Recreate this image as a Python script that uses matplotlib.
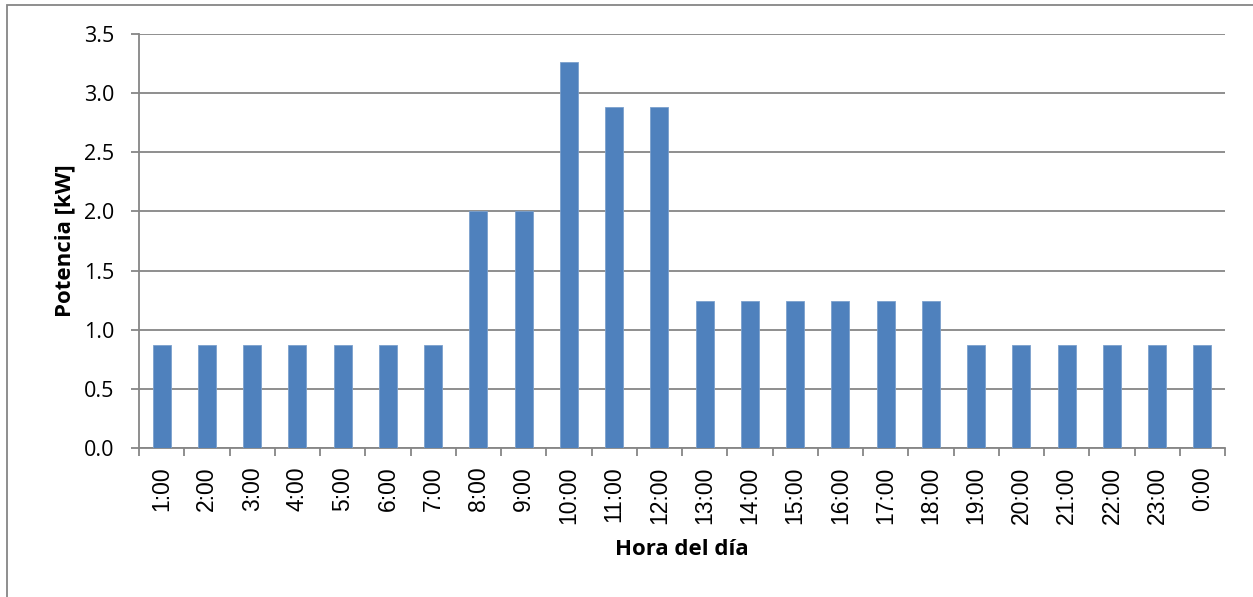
import matplotlib
matplotlib.use("Agg")
import matplotlib.pyplot as plt
from matplotlib.patches import Rectangle

horas = ["1:00", "2:00", "3:00", "4:00", "5:00", "6:00", "7:00", "8:00",
         "9:00", "10:00", "11:00", "12:00", "13:00", "14:00", "15:00", "16:00",
         "17:00", "18:00", "19:00", "20:00", "21:00", "22:00", "23:00", "0:00"]
potencia = [0.87, 0.87, 0.87, 0.87, 0.87, 0.87, 0.87, 2.0,
            2.0, 3.26, 2.88, 2.88, 1.24, 1.24, 1.24, 1.24,
            1.24, 1.24, 0.87, 0.87, 0.87, 0.87, 0.87, 0.87]
y_ticks = [0.0, 0.5, 1.0, 1.5, 2.0, 2.5, 3.0, 3.5]

bar_color = "#4F81BD"
grid_color = "#868686"

W, H = 1253, 597
fig = plt.figure(figsize=(W / 100, H / 100), dpi=100)
ax = fig.add_axes([139 / W, 1 - 448 / H, (1225 - 139) / W, (448 - 34) / H])

# outer chart frame
fig.patches.append(Rectangle((7 / W, -0.2), 1.2, 1.2 - 5 / H,
                             transform=fig.transFigure, fill=False,
                             edgecolor=grid_color, linewidth=1.3))

x = list(range(len(horas)))
ax.bar(x, potencia, width=0.4, color=bar_color, edgecolor="#7BA0CD",
       linewidth=0.6, zorder=3)

ax.set_xlim(-0.5, len(horas) - 0.5)
ax.set_ylim(0, 3.5)
ax.set_yticks(y_ticks)
ax.set_yticklabels([f"{v:.1f}" for v in y_ticks], fontsize=15.5, family="Open Sans")
ax.yaxis.grid(True, color=grid_color, linewidth=1.3, zorder=0)

# category labels at bar centers, tick marks at category boundaries
ax.set_xticks(x)
ax.set_xticklabels(horas, rotation=90, fontsize=16.5, family="Liberation Sans")
ax.tick_params(axis="x", which="major", length=0, pad=13.5)
ax.set_xticks([i - 0.5 for i in range(len(horas) + 1)], minor=True)
ax.tick_params(axis="x", which="minor", length=6, width=1.3, color=grid_color,
               direction="out")
ax.tick_params(axis="y", length=6, width=1.3, color=grid_color, direction="out",
               pad=12)

for side in ["top", "right"]:
    ax.spines[side].set_visible(False)
for side in ["left", "bottom"]:
    ax.spines[side].set_color(grid_color)
    ax.spines[side].set_linewidth(1.3)

ax.set_xlabel("Hora del día", fontsize=16, fontweight="bold", family="Open Sans",
              labelpad=11)
ax.set_ylabel("Potencia [kW]", fontsize=16, fontweight="bold", family="Open Sans",
              labelpad=6)

fig.savefig("out.png", dpi=100)
